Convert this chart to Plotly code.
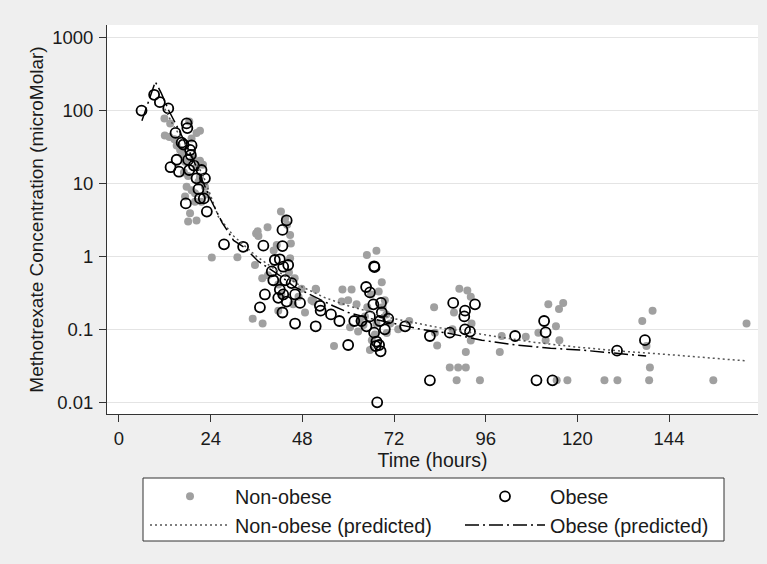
import plotly.graph_objects as go

# ---------------- data ----------------
nonobese_hours = [11.9, 13.4, 12.0, 13.2, 18.4, 21.2, 20.3, 15.1, 16.0, 17.3, 21.2, 20.3, 18.1, 17.7, 22.5,
                  19.9, 19.9, 18.6, 18.1, 20.3, 17.3, 21.6, 19.0, 21.2, 14.5, 16.5, 19.5, 22.0, 17.0, 20.8,
                  19.0, 22.8,
                  24.3, 31.0, 35.9, 36.5, 38.9, 42.4, 36.3, 44.8, 41.3, 35.6, 44.8, 37.5, 41.7, 51.5, 47.8,
                  35.0, 37.6, 48.7, 41.7, 45.6, 50.9, 43.5, 44.0, 45.0, 40.5, 44.5, 39.0, 46.0, 42.5, 47.0,
                  64.9, 67.4, 68.8, 58.5, 60.9, 58.3, 60.0, 62.2, 51.6, 50.4, 69.6, 60.5, 62.6, 76.0, 73.1,
                  56.3, 65.7, 64.4, 64.0, 67.4, 70.1, 66.2, 66.0, 69.0, 65.0, 71.0, 63.0, 67.0, 70.0, 68.0,
                  82.5, 83.3, 82.7, 86.6, 88.8, 90.8, 88.4, 94.5, 89.1, 91.2, 92.1, 87.7, 92.3, 92.1, 90.8,
                  87.3, 99.7, 100.2, 106.5, 109.8, 111.7, 112.4, 114.4, 115.2, 116.3, 115.3, 117.4, 114.6,
                  127.1, 130.5, 138.8, 139.0, 138.1, 137.0, 139.7, 155.6, 164.3]
nonobese_conc = [77, 66, 45, 43, 70, 52.5, 49, 33, 28.6, 19.8, 20.4, 16.6, 12.6, 9.0, 9.0,
                 7.3, 5.6, 3.9, 3.0, 3.1, 6.6, 5.6, 41, 12.3, 40, 25, 22, 18, 14, 10.5,
                 8.0, 7.0,
                 0.96, 0.97, 2.05, 1.9, 2.5, 4.1, 2.2, 1.96, 1.43, 0.76, 0.94, 0.50, 0.41, 0.36, 0.36,
                 0.14, 0.12, 0.17, 0.18, 0.22, 0.24, 3.3, 2.7, 1.5, 1.2, 0.6, 0.55, 0.5, 0.3, 0.28,
                 1.04, 1.19, 0.44, 0.35, 0.35, 0.24, 0.25, 0.22, 0.35, 0.25, 0.25, 0.107, 0.093, 0.13, 0.10,
                 0.059, 0.052, 0.15, 0.115, 0.12, 0.089, 0.071, 0.30, 0.20, 0.20, 0.12, 0.13, 0.085, 0.16, 0.33,
                 0.20, 0.060, 0.090, 0.030, 0.030, 0.030, 0.020, 0.020, 0.36, 0.34, 0.28, 0.17, 0.12, 0.070, 0.049,
                 0.10, 0.049, 0.081, 0.079, 0.090, 0.071, 0.22, 0.11, 0.19, 0.23, 0.071, 0.020, 0.020,
                 0.020, 0.020, 0.020, 0.030, 0.059, 0.13, 0.18, 0.020, 0.12]

obese_hours = [5.9, 9.2, 10.7, 12.9, 17.7, 17.9, 14.8, 16.4, 19.0, 18.6, 18.8, 18.1, 15.1, 13.5, 15.7,
               18.4, 21.6, 20.3, 22.5, 20.8, 21.2, 22.2, 17.5, 23.0, 16.9, 19.6,
               27.5, 32.5, 37.8, 42.8, 43.9, 42.8, 40.8, 42.1, 43.0, 44.3, 40.0, 40.4, 43.5, 45.2, 38.2,
               42.1, 43.0, 46.1, 41.7, 43.9, 47.4, 36.9, 42.8, 46.1, 51.5, 52.6, 52.8,
               66.8, 66.9, 64.7, 65.7, 55.5, 57.7, 61.6, 63.5, 66.6, 68.6, 65.7, 68.8, 70.5, 68.3, 69.6,
               64.8, 66.8, 67.4, 67.2, 68.5, 68.1, 60.0, 74.9, 67.6,
               81.4, 81.4, 86.6, 87.5, 90.6, 90.4, 93.2, 90.6, 91.9, 103.7, 109.3, 111.3, 111.7, 113.5,
               130.4, 137.7]
obese_conc = [99, 163, 129, 106, 66, 57, 49, 36, 33, 28.6, 24.4, 20.9, 21, 16.6, 14.4,
              15.2, 15.2, 11.7, 11.7, 8.3, 6.2, 6.2, 5.3, 4.1, 34, 17.5,
              1.46, 1.35, 1.4, 1.38, 3.1, 2.3, 0.89, 0.91, 0.72, 0.76, 0.62, 0.47, 0.47, 0.43, 0.30,
              0.35, 0.30, 0.30, 0.27, 0.24, 0.23, 0.20, 0.17, 0.12, 0.11, 0.21, 0.18,
              0.73, 0.71, 0.38, 0.32, 0.16, 0.13, 0.13, 0.13, 0.22, 0.23, 0.15, 0.17, 0.14, 0.13, 0.10,
              0.11, 0.09, 0.068, 0.059, 0.05, 0.061, 0.061, 0.11, 0.010,
              0.081, 0.020, 0.090, 0.23, 0.18, 0.15, 0.22, 0.10, 0.093, 0.081, 0.020, 0.13, 0.091, 0.020,
              0.051, 0.071]

pred_nonobese_hours = [12, 14, 18, 22, 26, 30, 36, 42, 48, 54, 60, 66, 72, 84, 96, 108, 120, 132, 144, 156, 164]
pred_nonobese_conc = [105, 65, 30, 13, 3.5, 1.9, 1.0, 0.6, 0.38, 0.27, 0.21, 0.17, 0.14, 0.105, 0.083,
                      0.067, 0.057, 0.05, 0.045, 0.04, 0.037]

pred_obese_hours = [6, 9.5, 11, 13, 16, 20, 24, 27, 30, 33, 36.5, 42, 46, 53, 56, 60, 66, 72, 79, 86, 95,
                    104, 113, 121, 130, 138]
pred_obese_conc = [72, 245, 175, 100, 50, 18, 6, 2.9, 1.65, 1.3, 0.85, 0.55, 0.38, 0.25, 0.21, 0.17, 0.14,
                   0.12, 0.10, 0.089, 0.071, 0.061, 0.055, 0.052, 0.047, 0.043]

x_ticks = [0, 24, 48, 72, 96, 120, 144]
y_ticks = [0.01, 0.1, 1, 10, 100, 1000]
y_ticktext = ["0.01", "0.1", "1", "10", "100", "1000"]

FONT = "Liberation Sans, Arial, sans-serif"

fig = go.Figure()
fig.add_trace(go.Scatter(x=nonobese_hours, y=nonobese_conc, mode="markers", name="Non-obese",
                         marker=dict(color="#a0a0a0", size=8, line=dict(width=0)), legend="legend"))
fig.add_trace(go.Scatter(x=obese_hours, y=obese_conc, mode="markers", name="Obese",
                         marker=dict(symbol="circle-open", color="black", size=10, line=dict(width=1.8)),
                         legend="legend2"))
fig.add_trace(go.Scatter(x=pred_nonobese_hours, y=pred_nonobese_conc, mode="lines",
                         name="Non-obese (predicted)",
                         line=dict(color="#555555", width=1.5, dash="2px,3px"), legend="legend"))
fig.add_trace(go.Scatter(x=pred_obese_hours, y=pred_obese_conc, mode="lines",
                         name="Obese (predicted)",
                         line=dict(color="black", width=1.5, dash="14px,4px,2px,4px"), legend="legend2"))

L, R, T, B = 107, 9, 25, 150
W, H = 767, 564
pw, ph = W - L - R, H - T - B

def px(xpix):
    return (xpix - L) / pw

def py(ypix):
    return (H - B - ypix) / ph

leg_common = dict(orientation="v", bgcolor="rgba(0,0,0,0)", borderwidth=0,
                  font=dict(family=FONT, size=19.8, color="#1a1a1a"), itemwidth=80,
                  xanchor="left", yanchor="top", tracegroupgap=0)

fig.update_layout(
    width=W, height=H,
    margin=dict(l=L, r=R, t=T, b=B),
    paper_bgcolor="#efefef",
    plot_bgcolor="white",
    font=dict(family=FONT, size=18, color="#1a1a1a"),
    showlegend=True,
    legend=dict(x=px(145), y=py(477), **leg_common),
    legend2=dict(x=px(460), y=py(477), **leg_common),
    shapes=[dict(type="rect", xref="paper", yref="paper", x0=px(143), x1=px(724), y0=py(541), y1=py(478),
                 line=dict(color="#333333", width=1), fillcolor="white", layer="below")],
    xaxis=dict(range=[-3.14, 167.3], tickvals=x_ticks, showgrid=False, zeroline=False,
               showline=True, linecolor="#333333", linewidth=1, ticks="outside", ticklen=7,
               tickcolor="#333333", tickfont=dict(size=18.5), ticklabelstandoff=1,
               title=dict(text="Time (hours)", font=dict(size=19.5), standoff=1)),
    yaxis=dict(type="log", range=[-2.16, 3.168], tickvals=y_ticks, ticktext=y_ticktext,
               showgrid=True, gridcolor="#e4e4e4", gridwidth=1, zeroline=False,
               showline=True, linecolor="#333333", linewidth=1, ticks="outside", ticklen=7,
               tickcolor="#333333", tickfont=dict(size=18.5), ticklabelstandoff=2,
               title=dict(text="Methotrexate Concentration (microMolar)", font=dict(size=19), standoff=3)),
)

fig.write_html("out.html", config={"displayModeBar": False},
               post_script="document.body.style.margin='0';document.body.style.overflow='hidden';")
